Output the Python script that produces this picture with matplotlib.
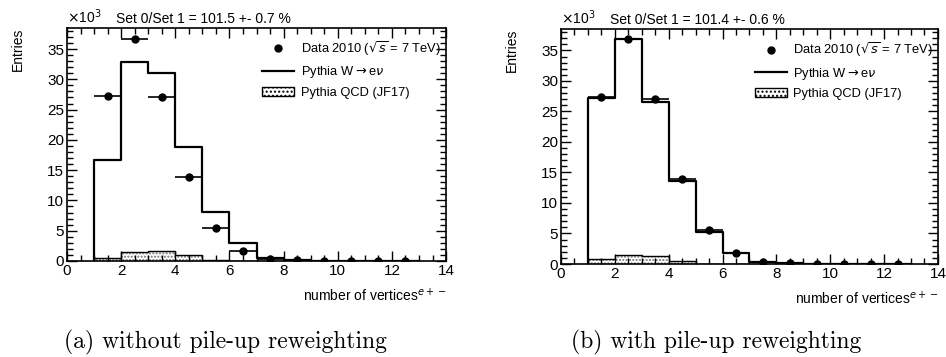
import numpy as np
import matplotlib.pyplot as plt
from matplotlib.lines import Line2D
from matplotlib.patches import Patch
from matplotlib.ticker import MultipleLocator

plt.rcParams['font.family'] = ['Liberation Sans', 'DejaVu Sans']

# bin edges for the number of reconstructed vertices
edges = np.arange(1, 14)
centres = edges[:-1] + 0.5

# entries in units of 10^3, without pile-up reweighting
data_a = [27.3, 36.7, 27.0, 13.9, 5.5, 1.7, 0.4, 0.1, 0.05, 0.02, 0.01, 0.01]
wenu_a = [16.6, 32.8, 31.1, 18.9, 8.1, 2.9, 0.5, 0.1, 0.02, 0.0, 0.0, 0.0]
qcd_a = [0.5, 1.4, 1.7, 1.0, 0.1, 0.0, 0.0, 0.0, 0.0, 0.0, 0.0, 0.0]

# entries in units of 10^3, with pile-up reweighting
data_b = [27.3, 36.8, 27.1, 14.0, 5.6, 1.8, 0.4, 0.1, 0.05, 0.02, 0.01, 0.01]
wenu_b = [27.2, 36.8, 26.6, 13.6, 5.3, 1.8, 0.4, 0.1, 0.02, 0.0, 0.0, 0.0]
qcd_b = [0.8, 1.5, 1.3, 0.5, 0.05, 0.0, 0.0, 0.0, 0.0, 0.0, 0.0, 0.0]

ratio_a = "Set 0/Set 1 = 101.5 +- 0.7 %"
ratio_b = "Set 0/Set 1 = 101.4 +- 0.6 %"
caption_a = "(a) without pile-up reweighting"
caption_b = "(b) with pile-up reweighting"


def step_vals(vals):
    return np.concatenate([[0], vals, [0]])


def draw_panel(ax, data, wenu, qcd, ratio):
    xs = np.concatenate([[edges[0]], edges])
    # QCD background, dotted fill with outline
    ax.fill_between(edges, np.append(qcd, qcd[-1]), step='post',
                    facecolor='white', edgecolor='0.45', hatch='.....',
                    linewidth=0)
    ax.step(xs, step_vals(qcd), where='post', color='black', lw=1.0)
    # W -> e nu signal
    ax.step(xs, step_vals(wenu), where='post', color='black', lw=1.6)
    # data with bin-width error bars
    err = np.sqrt(np.array(data) * 1000) / 1000
    ax.errorbar(centres, data, xerr=0.5, yerr=err, fmt='o', color='black',
                ms=5, elinewidth=1.2, capsize=0)

    ax.set_xlim(0, 14)
    ax.set_ylim(0, 38.5)
    ax.xaxis.set_major_locator(MultipleLocator(2))
    ax.xaxis.set_minor_locator(MultipleLocator(0.5))
    ax.yaxis.set_major_locator(MultipleLocator(5))
    ax.yaxis.set_minor_locator(MultipleLocator(1))
    ax.tick_params(which='both', direction='in', top=True, right=True,
                   labelsize=11, width=1.0, pad=2)
    ax.tick_params(which='major', length=7)
    ax.tick_params(which='minor', length=4)
    for s in ax.spines.values():
        s.set_linewidth(1.2)

    ax.text(0.0, 1.01, r"$\times$10$^3$", transform=ax.transAxes,
            ha='left', va='bottom', fontsize=10)
    ax.text(0.13, 1.01, ratio, transform=ax.transAxes, ha='left',
            va='bottom', fontsize=10)
    ax.text(1.0, -0.11, r"number of vertices$^{e+-}$", transform=ax.transAxes,
            ha='right', va='top', fontsize=10)
    ax.text(-0.13, 1.0, "Entries", transform=ax.transAxes, rotation=90,
            ha='center', va='top', fontsize=10)

    handles = [
        Line2D([], [], marker='o', ls='none', color='black', ms=5),
        Line2D([], [], color='black', lw=1.6),
        Patch(facecolor='white', edgecolor='black', hatch='....', lw=1.0),
    ]
    labels = [r"Data 2010 ($\sqrt{s}$ = 7 TeV)", r"Pythia W$\rightarrow$e$\nu$",
              "Pythia QCD (JF17)"]
    ax.legend(handles, labels, loc='upper left', bbox_to_anchor=(0.49, 0.99),
              frameon=False, fontsize=9.3, handlelength=2.5, labelspacing=0.5,
              handletextpad=0.5, borderaxespad=0.3)


fig = plt.figure(figsize=(9.46, 3.57), dpi=100)
ax_a = fig.add_axes([0.0708, 0.269, 0.4007, 0.653])
ax_b = fig.add_axes([0.593, 0.2605, 0.3985, 0.658])

draw_panel(ax_a, data_a, wenu_a, qcd_a, ratio_a)
draw_panel(ax_b, data_b, wenu_b, qcd_b, ratio_b)

fig.text(225 / 946, 1 - 342 / 357, caption_a, ha='center', va='center',
         fontsize=17, family='cmr10')
fig.text(716 / 946, 1 - 342 / 357, caption_b, ha='center', va='center',
         fontsize=17, family='cmr10')

fig.savefig("out.png", dpi=100)
